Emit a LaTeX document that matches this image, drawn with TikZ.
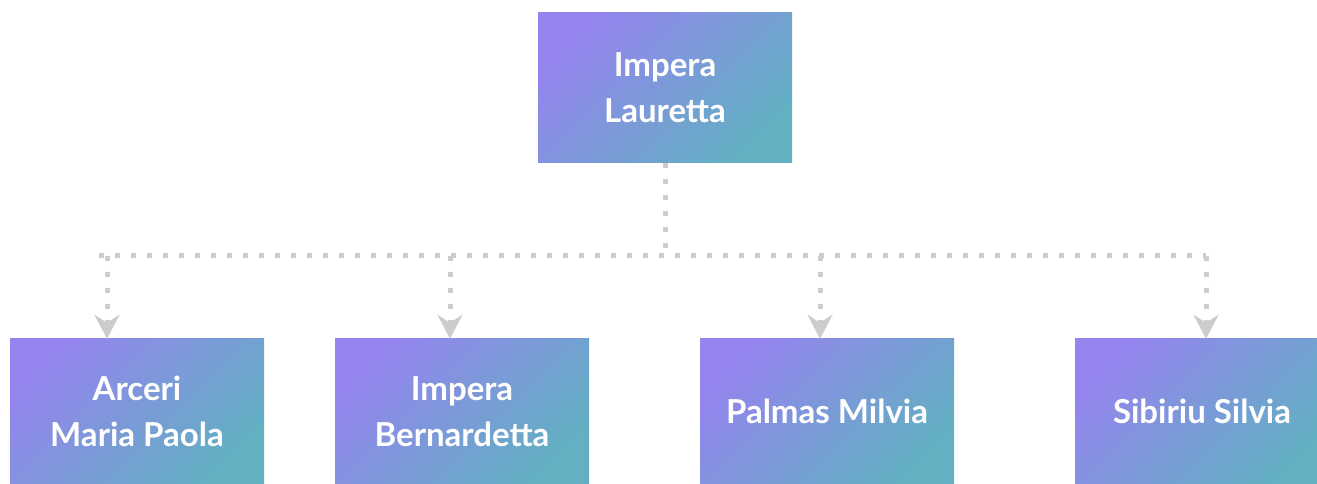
\documentclass[tikz,border=0pt]{standalone}
\usepackage{fontspec}
\setmainfont{Lato}
\usetikzlibrary{arrows.meta,positioning}
\definecolor{lilac}{HTML}{9484EE}
\definecolor{teal}{HTML}{62B0C2}
\definecolor{dots}{HTML}{CCCCCC}

\begin{document}
\begin{tikzpicture}[x=1pt, y=1pt,
    person/.style={minimum width=254pt, minimum height=145pt, inner sep=0pt,
      top color=lilac, bottom color=teal, shading angle=45,
      text=white, align=center, font=\fontsize{33}{46}\selectfont\bfseries},
    link/.style={draw=dots, line width=5pt, dash pattern=on 5pt off 11pt},
    tip/.style={-{Stealth[length=24pt, width=25pt, inset=8pt]}}]
	\useasboundingbox (0,0) rectangle (1317,484);

	\node[person, minimum height=150pt] (1) at (665,396) {Impera\\Lauretta};
	\node[person] (2) at (137,72.5) {Arceri\\Maria Paola};
	\node[person] (3) at (462,72.5) {Impera\\Bernardetta};
	\node[person] (4) at (827,72.5) {Palmas Milvia};
	\node[person] (5) at (1202,72.5) {Sibiriu Silvia};

	\coordinate (j) at (665,228);
	\coordinate (t2) at ([xshift=-30pt]2.north);
	\coordinate (t3) at ([xshift=-12pt]3.north);
	\coordinate (t4) at ([xshift=-7pt]4.north);
	\coordinate (t5) at ([xshift=4pt]5.north);

	\draw[link] (1.south) -- (j);
	\draw[link] ([xshift=-8pt]t2 |- j) -- (t5 |- j);
	\foreach \t in {t2,t3,t4,t5}
		\draw[link, tip] (\t |- j) -- (\t);
\end{tikzpicture}
\end{document}
